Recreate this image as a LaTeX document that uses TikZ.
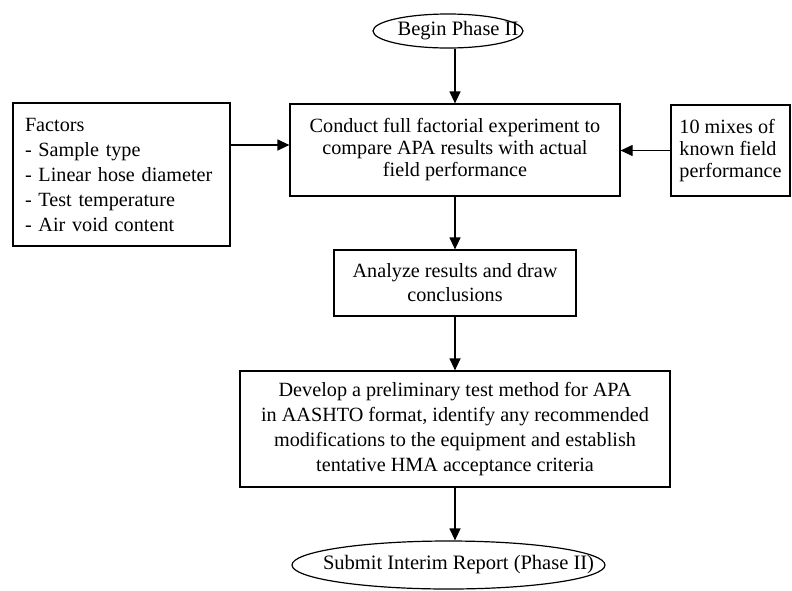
\documentclass[tikz,border=0pt]{standalone}
\usepackage{fontspec}
\setmainfont{Liberation Serif}
\usetikzlibrary{shapes.geometric,arrows.meta}
\begin{document}
\begin{tikzpicture}[x=1pt,y=-1pt,
  box/.style={draw, line width=1.2pt, rectangle, inner sep=0pt, align=center,
    font=\fontsize{20.2}{22}\selectfont},
  oval/.style={draw, line width=1.2pt, ellipse, inner sep=0pt,
    font=\fontsize{20.5}{22}\selectfont},
  arr/.style={-{Triangle[length=12pt,width=11pt]}, line width=1.2pt}]
\useasboundingbox (0,0) rectangle (792,590);
\node[oval, minimum width=150pt, minimum height=34pt] (top) at (448,31)
  {\makebox[0pt]{\hspace*{20pt}Begin Phase II}};
\node[box, minimum width=330pt, minimum height=92pt] (main) at (455,150)
  {Conduct full factorial experiment to\\compare APA results with actual\\field performance};
\node[box, minimum width=217pt, minimum height=143pt, text width=193pt, align=left,
  font=\fontsize{20.2}{25}\selectfont] (left) at (121.5,174.5)
  {Factors\\- Sample type\\- Linear hose diameter\\- Test temperature\\- Air void content};
\node[box, minimum width=119pt, minimum height=91pt, align=left] (right) at (730.5,150.5)
  {10 mixes of\\known field\\performance};
\node[box, minimum width=242pt, minimum height=66pt, font=\fontsize{20.2}{24}\selectfont] (analyze) at (455,283)
  {Analyze results and draw\\conclusions};
\node[box, minimum width=430pt, minimum height=116pt, font=\fontsize{20.2}{25}\selectfont] (develop) at (455,429)
  {Develop a preliminary test method for APA\\in AASHTO format, identify any recommended\\modifications to the equipment and establish\\tentative HMA acceptance criteria};
\node[oval, minimum width=313pt, minimum height=48pt] (bot) at (448.5,565)
  {\makebox[0pt]{\hspace*{20pt}Submit Interim Report (Phase II)}};
\draw[arr] (main.north |- top.south) -- (main.north);
\draw[arr] ([yshift=5pt]main.west -| left.east) -- ([yshift=5pt]main.west);
\draw[arr] (right.west) -- (main.east |- right.west);
\draw[arr] (main.south) -- (analyze.north);
\draw[arr] (analyze.south) -- (develop.north);
\draw[arr] (develop.south) -- (develop.south |- bot.north);
\end{tikzpicture}
\end{document}
